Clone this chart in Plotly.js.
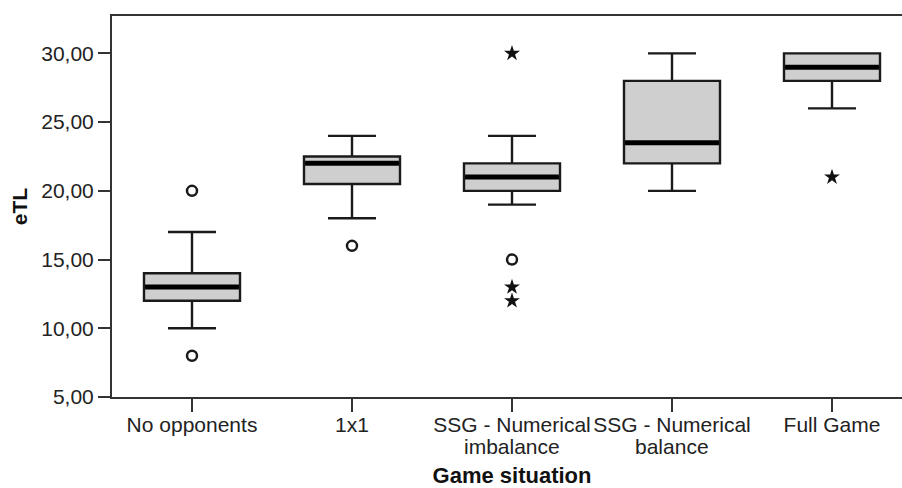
<!DOCTYPE html>
<html>
<head>
<meta charset="utf-8">
<script src="https://cdn.plot.ly/plotly-3.0.1.min.js"></script>
<style>
html,body{margin:0;padding:0;overflow:hidden;background:#fff;width:902px;height:488px;}
#chart{width:912px;height:488px;}
</style>
</head>
<body>
<div id="chart"></div>
<script>
// Data
const categories = ["No opponents", "1x1", "SSG - Numerical imbalance", "SSG - Numerical balance", "Full Game"];
const tickLine1 = ["No opponents", "1x1", "SSG - Numerical", "SSG - Numerical", "Full Game"];
const tickLine2 = ["", "", "imbalance", "balance", ""];
const lowerWhisker = [10, 18, 19, 20, 26];
const q1Values = [12, 20.5, 20, 22, 28];
const medianValues = [13, 22, 21, 23.5, 29];
const q3Values = [14, 22.5, 22, 28, 30];
const upperWhisker = [17, 24, 24, 30, 30];
const circleOutlierX = ["No opponents", "No opponents", "1x1", "SSG - Numerical imbalance"];
const circleOutlierY = [20, 8, 16, 15];
const starOutlierX = ["SSG - Numerical imbalance", "SSG - Numerical imbalance", "SSG - Numerical imbalance", "Full Game"];
const starOutlierY = [30, 13, 12, 21];
const yTicks = [5, 10, 15, 20, 25, 30];

const font = "Liberation Sans, Arial, sans-serif";
const textColor = "#222";

const traces = [
  {
    type: "box",
    x: categories,
    q1: q1Values,
    median: medianValues,
    q3: q3Values,
    lowerfence: lowerWhisker,
    upperfence: upperWhisker,
    boxpoints: false,
    width: 0.6,
    whiskerwidth: 0.5,
    fillcolor: "#cfcfcf",
    line: {color: "#1a1a1a", width: 2.4},
    hoverinfo: "skip",
    showlegend: false
  },
  {
    type: "scatter",
    mode: "markers",
    x: categories,
    y: medianValues,
    marker: {symbol: "line-ew", size: 67, line: {color: "#000", width: 5}},
    hoverinfo: "skip",
    showlegend: false
  },
  {
    type: "scatter",
    mode: "markers",
    x: circleOutlierX,
    y: circleOutlierY,
    marker: {symbol: "circle-open", size: 10, color: "#1a1a1a", line: {color: "#1a1a1a", width: 2.5}},
    hoverinfo: "skip",
    showlegend: false
  },
  {
    type: "scatter",
    mode: "markers",
    x: starOutlierX,
    y: starOutlierY,
    marker: {symbol: "star", size: 12, color: "#111", line: {width: 0}},
    hoverinfo: "skip",
    showlegend: false
  }
];

const annotations = categories.map((c, i) => ({
  xref: "x", yref: "paper",
  x: c, y: -(447 - 397) / 381,
  yanchor: "middle", xanchor: "center",
  text: tickLine2[i], showarrow: false,
  font: {family: font, size: 21, color: textColor}
})).filter(a => a.text !== "");

const layout = {
  width: 912,
  height: 488,
  margin: {l: 112, r: 0, t: 16, b: 91},
  paper_bgcolor: "#fff",
  plot_bgcolor: "#fff",
  separators: ", ",
  showlegend: false,
  xaxis: {
    type: "category",
    categoryarray: categories,
    range: [-0.5, 4.5],
    tickvals: categories,
    ticktext: tickLine1,
    tickangle: 0,
    ticks: "outside",
    ticklen: 13,
    tickwidth: 2,
    tickcolor: "#333",
    ticklabelstandoff: -5,
    showline: true,
    mirror: true,
    linecolor: "#333",
    linewidth: 2,
    showgrid: false,
    zeroline: false,
    tickfont: {family: font, size: 21, color: textColor},
    title: {text: "<b>Game situation</b>", font: {family: font, size: 22, color: "#111"}, standoff: 49}
  },
  yaxis: {
    range: [5, 32.72],
    tickvals: yTicks,
    tickformat: ".2f",
    ticks: "outside",
    ticklen: 12,
    tickwidth: 2,
    tickcolor: "#333",
    showline: true,
    mirror: true,
    linecolor: "#333",
    linewidth: 2,
    showgrid: false,
    zeroline: false,
    tickfont: {family: font, size: 21, color: textColor},
    title: {text: "<b>eTL</b>", font: {family: font, size: 21, color: "#111"}, standoff: 8}
  },
  annotations: annotations
};

Plotly.newPlot("chart", traces, layout, {staticPlot: true, displayModeBar: false});
</script>
</body>
</html>
